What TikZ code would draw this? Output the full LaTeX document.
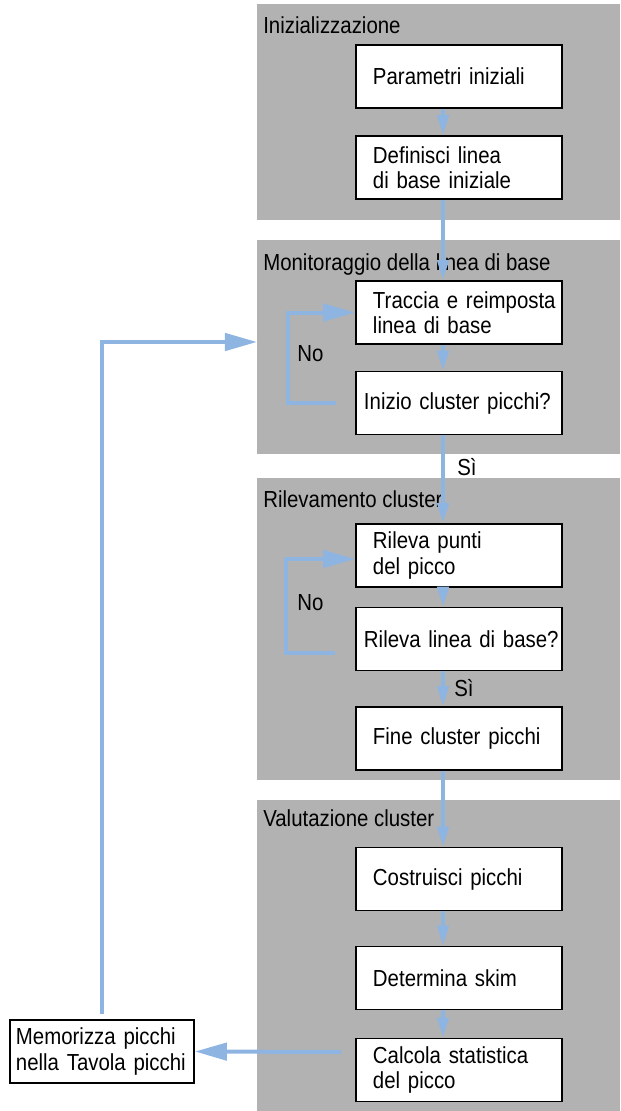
\documentclass[tikz,border=0pt]{standalone}
\usepackage{fontspec}
\setmainfont{Liberation Sans}[FakeStretch=0.88]
\definecolor{flowblue}{RGB}{142,180,226}
\definecolor{phasegray}{RGB}{178,178,178}
\usetikzlibrary{arrows.meta,positioning,calc}

\begin{document}
\begin{tikzpicture}[x=0.025cm,y=-0.025cm,
  font=\fontsize{16.5}{17.8}\selectfont,
  phase/.style={fill=phasegray,anchor=north west,inner sep=0pt,minimum width=9.075cm},
  title/.style={anchor=base west,inner sep=0pt},
  box/.style={draw,line width=1.2pt,fill=white,minimum width=5.15cm,minimum height=1.575cm,text width=4.9cm,align=left,inner xsep=0.125cm,
    execute at begin node={\leftskip=0.3cm\hyphenpenalty=10000}},
  widebox/.style={box,text width=5.15cm,inner xsep=0pt,execute at begin node={\leftskip=0.2cm}},
  flow/.style={line width=0.1cm,flowblue,-{Triangle[length=0.5cm,width=0.28cm]}},
  back/.style={line width=0.1cm,flowblue,-{Triangle[length=0.8cm,width=0.43cm]}},
  lbl/.style={anchor=west,inner sep=0pt}]
  \useasboundingbox (0,0) rectangle (620,1111);

  \node[phase,minimum height=5.4cm] (ini) at (257,4) {};
  \node[phase,minimum height=5.35cm] (mon) at (257,240) {};
  \node[phase,minimum height=7.55cm] (ril) at (257,478) {};
  \node[phase,minimum height=7.775cm] (val) at (257,800) {};
  \node[title] (tini) at (263,33) {Inizializzazione};
  \node[title] (tmon) at (263,270) {Monitoraggio della linea di base};
  \node[title] (tril) at (263,507) {Rilevamento cluster};
  \node[title] (tval) at (263,826) {Valutazione cluster};

  \node[box] (par) at (459,76.5) {Parametri iniziali};
  \node[box] (def) at (459,167.5) {Definisci linea\\di base iniziale};
  \node[box] (trac) at (459,312.5) {Traccia e reimposta\\linea di base};
  \node[widebox] (inizio) at (459,403) {Inizio cluster picchi?};
  \node[box] (punti) at (459,555.5) {Rileva punti\\del picco};
  \node[widebox] (rlin) at (459,639) {Rileva linea di base?};
  \node[box] (fine) at (459,738.5) {Fine cluster picchi};
  \node[box] (costr) at (459,879) {Costruisci picchi};
  \node[box] (skim) at (459,978) {Determina skim};
  \node[box] (stat) at (459,1070) {Calcola statistica\\del picco};
  \node[box,minimum width=4.6cm,text width=4.3cm,inner xsep=0.15cm,execute at begin node={\leftskip=0pt}] (mem) at (102,1051.5) {Memorizza picchi\\nella Tavola picchi};
  \coordinate (spine) at (443,0);

  \draw[flow] (par.south -| spine) -- (def.north -| spine);
  \draw[flow] (def.south -| spine) -- (trac.north -| spine);
  \draw[flow] (trac.south -| spine) -- (inizio.north -| spine);
  \draw[flow] (inizio.south -| spine) -- (punti.north -| spine);
  \draw[flow] (punti.south -| spine) -- (rlin.north -| spine);
  \draw[flow] (rlin.south -| spine) -- (fine.north -| spine);
  \draw[flow] (fine.south -| spine) -- (costr.north -| spine);
  \draw[flow] (costr.south -| spine) -- (skim.north -| spine);
  \draw[flow] (skim.south -| spine) -- (stat.north -| spine);
  \node[lbl] (si1) at (457,467) {Sì};
  \node[lbl] (si2) at (454,688) {Sì};

  \draw[back] ($(inizio.west)+(-19,0)$) -- ++(-48,0) |- (trac.west);
  \node[lbl] (no1) at (297,354) {No};
  \draw[back] ($(rlin.west)+(-20,14)$) -- ++(-49,0) |- ($(punti.west)+(0,3.5)$);
  \node[lbl] (no2) at (297,603) {No};

  \draw[back] ($(stat.west)+(-14,-18)$) -- (mem.east);
  \draw[back] ($(mem.north)+(0,-5)$) |- ($(mon.north west)+(0,102)$);
\end{tikzpicture}
\end{document}
